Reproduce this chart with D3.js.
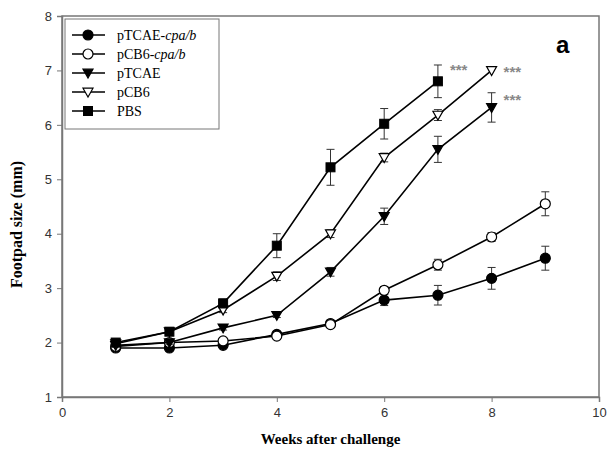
<!DOCTYPE html>
<html>
<head>
<meta charset="utf-8">
<script src="https://cdn.jsdelivr.net/npm/d3@7"></script>
<style>
  body { margin: 0; background: #fff; }
  .tick text { font-family: "Liberation Sans", Arial, sans-serif; font-size: 13px; fill: #333; }
  .serif { font-family: "Liberation Serif", "Times New Roman", serif; }
</style>
</head>
<body>
<svg id="chart" width="609" height="451"></svg>
<script>
// data
const seriesNames = ['pTCAE-cpa/b', 'pCB6-cpa/b', 'pTCAE', 'pCB6', 'PBS'];
const weeksCpaTcae = [1, 2, 3, 4, 5, 6, 7, 8, 9];
const cpaTcaeMean = [1.9, 1.9, 1.95, 2.15, 2.35, 2.78, 2.87, 3.18, 3.55];
const cpaTcaeErr = [0.03, 0.03, 0.03, 0.04, 0.05, 0.1, 0.18, 0.2, 0.22];
const weeksCpaCb6 = [1, 2, 3, 4, 5, 6, 7, 8, 9];
const cpaCb6Mean = [1.93, 2.0, 2.03, 2.12, 2.33, 2.96, 3.43, 3.94, 4.55];
const cpaCb6Err = [0.03, 0.03, 0.03, 0.04, 0.05, 0.07, 0.1, 0.08, 0.22];
const weeksTcae = [1, 2, 3, 4, 5, 6, 7, 8];
const tcaeMean = [1.95, 2.0, 2.27, 2.5, 3.3, 4.32, 5.55, 6.32];
const tcaeErr = [0.03, 0.03, 0.04, 0.04, 0.08, 0.15, 0.24, 0.27];
const weeksCb6 = [1, 2, 3, 4, 5, 6, 7, 8];
const cb6Mean = [1.98, 2.2, 2.6, 3.22, 4.0, 5.4, 6.18, 7.0];
const cb6Err = [0.03, 0.03, 0.05, 0.08, 0.07, 0.08, 0.1, 0];
const weeksPbs = [1, 2, 3, 4, 5, 6, 7];
const pbsMean = [2.0, 2.2, 2.72, 3.78, 5.22, 6.02, 6.8];
const pbsErr = [0.03, 0.03, 0.08, 0.22, 0.33, 0.28, 0.3];
const xTicks = [0, 2, 4, 6, 8, 10];
const yTicks = [1, 2, 3, 4, 5, 6, 7, 8];
// significance marks (week, footpad size)
const starX = [7, 8, 8];
const starY = [7.05, 7.0, 6.5];

const series = [
    {name: seriesNames[0], x: weeksCpaTcae, y: cpaTcaeMean, e: cpaTcaeErr, shape: 'circle', fill: '#000'},
    {name: seriesNames[1], x: weeksCpaCb6, y: cpaCb6Mean, e: cpaCb6Err, shape: 'circle', fill: '#fff'},
    {name: seriesNames[2], x: weeksTcae, y: tcaeMean, e: tcaeErr, shape: 'tri', fill: '#000'},
    {name: seriesNames[3], x: weeksCb6, y: cb6Mean, e: cb6Err, shape: 'tri', fill: '#fff'},
    {name: seriesNames[4], x: weeksPbs, y: pbsMean, e: pbsErr, shape: 'square', fill: '#000'}
];

const svg = d3.select('#chart');
const mLeft = 62, mRight = 599, mTop = 16, mBottom = 397;
const x = d3.scaleLinear().domain([0, 10]).range([mLeft, mRight]);
const y = d3.scaleLinear().domain([1, 8]).range([mBottom, mTop]);

// frame
svg.append('rect')
    .attr('x', mLeft).attr('y', mTop)
    .attr('width', mRight - mLeft).attr('height', mBottom - mTop)
    .attr('fill', 'none').attr('stroke', '#777').attr('stroke-width', 1.5);

// axes
let xAxis = svg.append('g').attr('transform', `translate(0,${mBottom})`)
    .call(d3.axisBottom(x).tickValues(xTicks).tickFormat(d3.format('d')).tickSize(5).tickPadding(6));
let yAxis = svg.append('g').attr('transform', `translate(${mLeft},0)`)
    .call(d3.axisLeft(y).tickValues(yTicks).tickFormat(d3.format('d')).tickSize(5).tickPadding(5));
[xAxis, yAxis].forEach(a => {
    a.select('.domain').attr('stroke', '#777').attr('stroke-width', 1.5);
    a.selectAll('.tick line').attr('stroke', '#777');
});

// axis titles
svg.append('text').attr('class', 'serif')
    .attr('x', (mLeft + mRight) / 2).attr('y', 444)
    .attr('text-anchor', 'middle').attr('font-size', 15).attr('font-weight', 'bold')
    .text('Weeks after challenge');
svg.append('text').attr('class', 'serif')
    .attr('transform', `translate(22,${(mTop + mBottom) / 2 + 18}) rotate(-90)`)
    .attr('text-anchor', 'middle').attr('font-size', 16).attr('font-weight', 'bold')
    .text('Footpad size (mm)');

svg.append('text')
    .attr('x', 556).attr('y', 53)
    .attr('font-family', 'Liberation Sans, Arial, sans-serif')
    .attr('font-size', 24).attr('font-weight', 'bold')
    .text('a');

function marker(g, shape, fill) {
    if (shape === 'circle') {
        g.append('circle').attr('r', 5).attr('fill', fill).attr('stroke', '#000').attr('stroke-width', 1.2);
    } else if (shape === 'square') {
        g.append('rect').attr('x', -4.5).attr('y', -4.5).attr('width', 9).attr('height', 9)
            .attr('fill', fill).attr('stroke', '#000');
    } else {
        g.append('path').attr('d', 'M-5,-3.8L5,-3.8L0,5Z')
            .attr('fill', fill).attr('stroke', '#000').attr('stroke-width', 1.2);
    }
}

const line = d3.line().x(d => x(d[0])).y(d => y(d[1]));

series.forEach(s => {
    let pts = s.x.map((w, i) => [w, s.y[i], s.e[i]]);
    let g = svg.append('g');
    // error bars
    pts.filter(d => d[2] > 0).forEach(d => {
        let eb = g.append('g').attr('stroke', '#333').attr('stroke-width', 1);
        eb.append('line').attr('x1', x(d[0])).attr('x2', x(d[0]))
            .attr('y1', y(d[1] - d[2])).attr('y2', y(d[1] + d[2]));
        [d[1] - d[2], d[1] + d[2]].forEach(v => {
            eb.append('line').attr('x1', x(d[0]) - 4).attr('x2', x(d[0]) + 4)
                .attr('y1', y(v)).attr('y2', y(v));
        });
    });
    g.append('path').datum(pts).attr('d', line)
        .attr('fill', 'none').attr('stroke', '#000').attr('stroke-width', 1.6);
    pts.forEach(d => {
        marker(g.append('g').attr('transform', `translate(${x(d[0])},${y(d[1])})`), s.shape, s.fill);
    });
});

// stars
starX.forEach((w, i) => {
    svg.append('text').attr('x', x(w) + 12).attr('y', y(starY[i]) + 7)
        .attr('font-family', 'Liberation Sans, Arial, sans-serif')
        .attr('font-size', 15).attr('font-weight', 'bold').attr('fill', '#888')
        .text('***');
});

// legend
let legend = svg.append('g');
legend.append('rect').attr('x', mLeft + 3).attr('y', mTop + 3).attr('width', 154).attr('height', 110)
    .attr('fill', '#fff').attr('stroke', '#777').attr('stroke-width', 1);
series.forEach((s, i) => {
    let ly = 35 + i * 19;
    legend.append('line').attr('x1', 72).attr('x2', 105).attr('y1', ly).attr('y2', ly)
        .attr('stroke', '#000').attr('stroke-width', 1.6);
    marker(legend.append('g').attr('transform', `translate(88,${ly})`), s.shape, s.fill);
    let t = legend.append('text').attr('class', 'serif')
        .attr('x', 117).attr('y', ly + 5).attr('font-size', 14);
    let parts = s.name.split('-');
    t.append('tspan').text(parts[0] + (parts.length > 1 ? '-' : ''));
    if (parts.length > 1) t.append('tspan').attr('font-style', 'italic').text(parts[1]);
});
</script>
</body>
</html>
